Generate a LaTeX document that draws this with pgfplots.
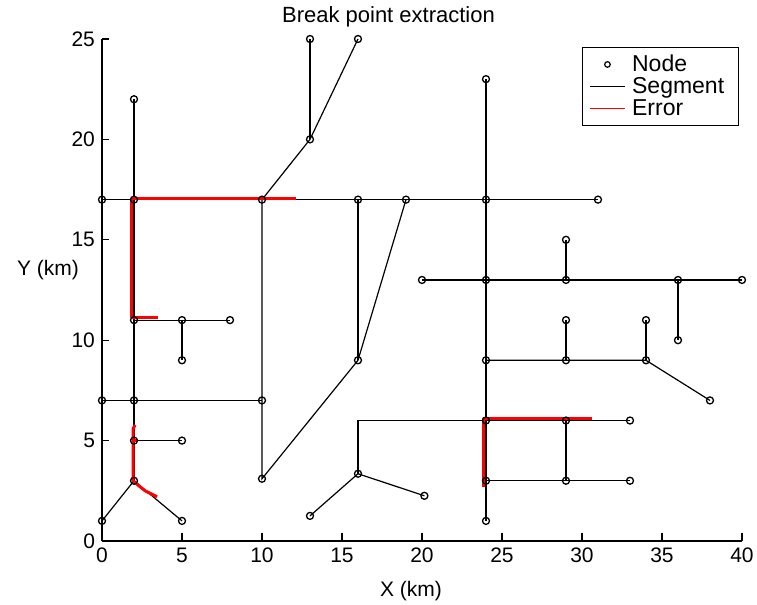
\documentclass[border=0pt]{standalone}
\usepackage{pgfplots}
\pgfplotsset{compat=1.18}
\usepackage{fontspec}
\setmainfont{Liberation Sans}
\newcommand\fs{\fontsize{10.5}{12.6}\selectfont}
\newcommand\fl{\fontsize{11.5}{13}\selectfont}
\begin{document}
\begin{tikzpicture}
\useasboundingbox (-51pt,-32pt) rectangle (327.5pt,270.5pt);
\begin{axis}[
  at={(0pt,0pt)}, anchor=south west,
  width=320pt, height=251pt, scale only axis,
  xmin=0, xmax=40, ymin=0, ymax=25,
  xtick={0,5,...,40}, ytick={0,5,...,25},
  axis lines*=left,
  axis line style={line width=0.65pt, black},
  tick align=inside,
  major tick length=3.75pt,
  tick style={line width=0.55pt, black},
  ticklabel style={font=\fs},
  /pgf/number format/assume math mode=true,
  clip=false,
  legend cell align=left,
  legend style={at={(axis description cs:0.995,0.984)}, anchor=north east,
    font=\fl, draw=black, line width=0.6pt, inner xsep=3.5pt, inner ysep=1.5pt,
    row sep=-2.5pt, nodes={inner xsep=3.5pt}},
]
\addlegendimage{only marks, mark=o, mark size=1.4pt, black, line width=0.6pt}
\addlegendentry{Node}
\addlegendimage{black, line width=0.6pt}
\addlegendentry{Segment}
\addlegendimage{red, line width=0.6pt}
\addlegendentry{Error}

% segments
\pgfplotsset{seg/.style={black, line width=0.6pt, forget plot, mark=none}}
\addplot[seg] coordinates {(0,1) (2,3) (5,1)};
\addplot[seg] coordinates {(2,3) (2,5) (2,7) (2,11) (2,17) (2,22)};
\addplot[seg] coordinates {(2,5) (5,5)};
\addplot[seg] coordinates {(0,7) (2,7) (10,7)};
\addplot[seg] coordinates {(2,11) (5,11) (8,11)};
\addplot[seg] coordinates {(5,11) (5,9)};
\addplot[seg] coordinates {(0,17) (2,17) (10,17) (16,17) (19,17) (24,17) (31,17)};
\addplot[seg] coordinates {(10,17) (10,7) (10,3.1) (16,9) (19,17)};
\addplot[seg] coordinates {(10,17) (13,20) (16,25)};
\addplot[seg] coordinates {(13,20) (13,25)};
\addplot[seg] coordinates {(16,17) (16,9)};
\addplot[seg] coordinates {(24,23) (24,17) (24,13) (24,9) (24,6) (24,3) (24,1)};
\addplot[seg] coordinates {(20,13) (24,13) (29,13) (36,13) (40,13)};
\addplot[seg] coordinates {(29,13) (29,15)};
\addplot[seg] coordinates {(36,13) (36,10)};
\addplot[seg] coordinates {(24,9) (29,9) (34,9) (38,7)};
\addplot[seg] coordinates {(29,9) (29,11)};
\addplot[seg] coordinates {(34,9) (34,11)};
\addplot[seg] coordinates {(13,1.25) (16,3.35) (20.15,2.25)};
\addplot[seg] coordinates {(16,3.35) (16,6) (24,6) (29,6) (33,6)};
\addplot[seg] coordinates {(29,6) (29,3)};
\addplot[seg] coordinates {(24,3) (29,3) (33,3)};

% errors
\pgfplotsset{err/.style={red, line width=1.5pt, forget plot, mark=none, line join=round}}
\addplot[err] coordinates {(12.1,17.07) (1.85,17.07) (1.85,11.14) (3.5,11.14)};
\addplot[err] coordinates {(2.07,5.78) (1.95,5.6) (1.95,3.0) (2.3,2.75) (2.7,2.5) (3.0,2.38) (3.44,2.2)};
\addplot[err] coordinates {(1.95,5) (2.25,5)};
\addplot[err] coordinates {(30.6,6.1) (23.85,6.1) (23.85,2.7)};

% nodes
\addplot[only marks, mark=o, mark size=1.75pt, black, line width=0.65pt, forget plot] coordinates {
(0,1) (2,3) (5,1) (2,5) (5,5) (0,7) (2,7) (10,7) (2,11) (5,11) (8,11) (5,9)
(0,17) (2,17) (2,22) (10,17) (16,17) (19,17) (24,17) (31,17) (10,3.1) (16,9)
(13,20) (13,25) (16,25) (24,23) (24,13) (24,9) (24,6) (24,3) (24,1) (20,13)
(29,13) (36,13) (40,13) (29,15) (36,10) (29,9) (34,9) (38,7) (29,11) (34,11)
(13,1.25) (16,3.35) (20.15,2.25) (29,6) (33,6) (29,3) (33,3)};
\end{axis}
\node[font=\fontsize{11}{13}\selectfont, anchor=base] at (143.25pt,259.2pt) {Break point extraction};
\node[font=\fs] at (154.5pt,-25pt) {X (km)};
\node[font=\fs] at (-27pt,135.5pt) {Y (km)};
\end{tikzpicture}
\end{document}
